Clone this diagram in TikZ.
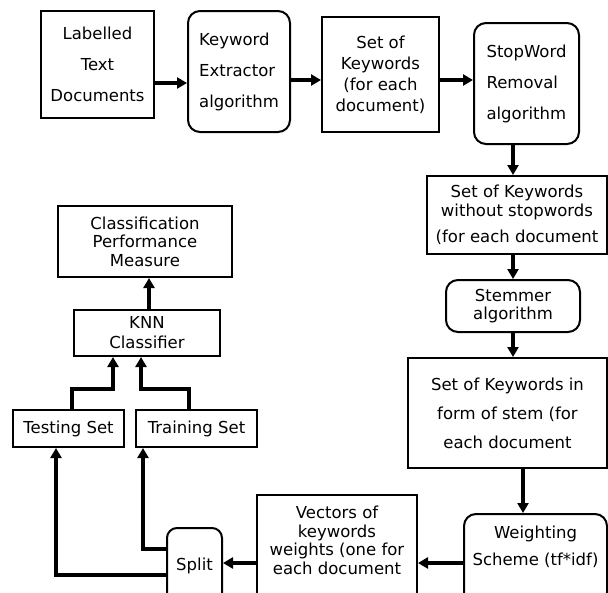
\documentclass[tikz,border=0pt]{standalone}
\usepackage{fontspec}
\setmainfont{DejaVu Sans}
\usetikzlibrary{arrows.meta}

\begin{document}
\begin{tikzpicture}[x=1pt, y=-1pt,
        box/.style={draw, line width=2pt, align=center, inner sep=1pt},
        rbox/.style={box, rounded corners=12pt},
        loose/.style={font=\fontsize{16.5}{31}\selectfont},
        mid/.style={font=\fontsize{16.5}{21}\selectfont},
        tight/.style={font=\fontsize{16.5}{18.5}\selectfont},
        flow/.style={line width=3.2pt, -{Triangle[length=10pt,width=11pt]}}
        ]
        \useasboundingbox (0,0) rectangle (608,592);
        \node [box, loose, name=lab, minimum width=113pt, minimum height=107pt] at (97.5,64.5) {Labelled\\Text\\Documents};
        \node [rbox, loose, align=left, name=kex, minimum width=102pt, minimum height=121pt] at (239,71.5) {Keyword\\Extractor\\algorithm};
        \node [box, mid, name=sok, minimum width=117pt, minimum height=115pt] at (380.5,74.5) {Set of\\Keywords\\(for each\\document)};
        \node [rbox, loose, align=left, name=swr, minimum width=105pt, minimum height=121pt] at (526.5,83.5) {StopWord\\Removal\\algorithm};
        \node [box, tight, name=skw, minimum width=180pt, minimum height=78pt] at (517,215) {Set of Keywords\\without stopwords\\[8pt](for each document};
        \node [rbox, tight, name=stm, minimum width=134pt, minimum height=52pt] at (513,306) {Stemmer\\algorithm};
        \node [box, font=\fontsize{16.5}{29}\selectfont, name=sks, minimum width=199pt, minimum height=110pt] at (507.5,413) {Set of Keywords in\\form of stem (for\\each document};
        \node [rbox, font=\fontsize{16.5}{27}\selectfont, name=wgt, minimum width=143pt, minimum height=90pt] at (535.5,559) {Weighting\\Scheme (tf*idf)\\~};
        \node [box, tight, name=vec, minimum width=160pt, minimum height=109pt] at (337,549.5) {Vectors of\\keywords\\weights (one for\\each document\\~};
        \node [rbox, tight, rounded corners=10pt, name=split, minimum width=55pt, minimum height=76pt] at (194.5,566) {Split};
        \node [box, tight, name=tst, minimum width=111pt, minimum height=37pt] at (68.5,428.5) {Testing Set};
        \node [box, tight, name=trn, minimum width=121pt, minimum height=37pt] at (196.5,428.5) {Training Set};
        \node [box, font=\fontsize{16.5}{20}\selectfont, name=knn, minimum width=146pt, minimum height=46pt] at (147,333) {KNN\\Classifier};
        \node [box, tight, name=cpm, minimum width=174pt, minimum height=71pt] at (145,241.5) {Classification\\Performance\\Measure};
        \draw [flow] (lab.east |- 0,83) -- (kex.west |- 0,83);
        \draw [flow] (kex.east |- 0,80) -- (sok.west |- 0,80);
        \draw [flow] (sok.east |- 0,80) -- (swr.west |- 0,80);
        \draw [flow] (swr.south -| 513,0) -- (skw.north -| 513,0);
        \draw [flow] (skw.south -| stm.north) -- (stm.north);
        \draw [flow] (stm.south) -- (sks.north -| stm.south);
        \draw [flow] (sks.south -| 523,0) -- (wgt.north -| 523,0);
        \draw [flow] (wgt.west |- 0,563) -- (vec.east |- 0,563);
        \draw [flow] (vec.west |- 0,563) -- (split.east |- 0,563);
        \draw [flow] (split.west |- 0,575) -| (tst.south -| 56,0);
        \draw [flow] (split.west |- 0,549) -| (trn.south -| 143,0);
        \draw [flow] (tst.north -| 72,0) |- (113,389) -- (knn.south -| 113,0);
        \draw [flow] (trn.north -| 189,0) |- (141,389) -- (knn.south -| 141,0);
        \draw [flow] (knn.north -| 149,0) -- (cpm.south -| 149,0);
\end{tikzpicture}
\end{document}
